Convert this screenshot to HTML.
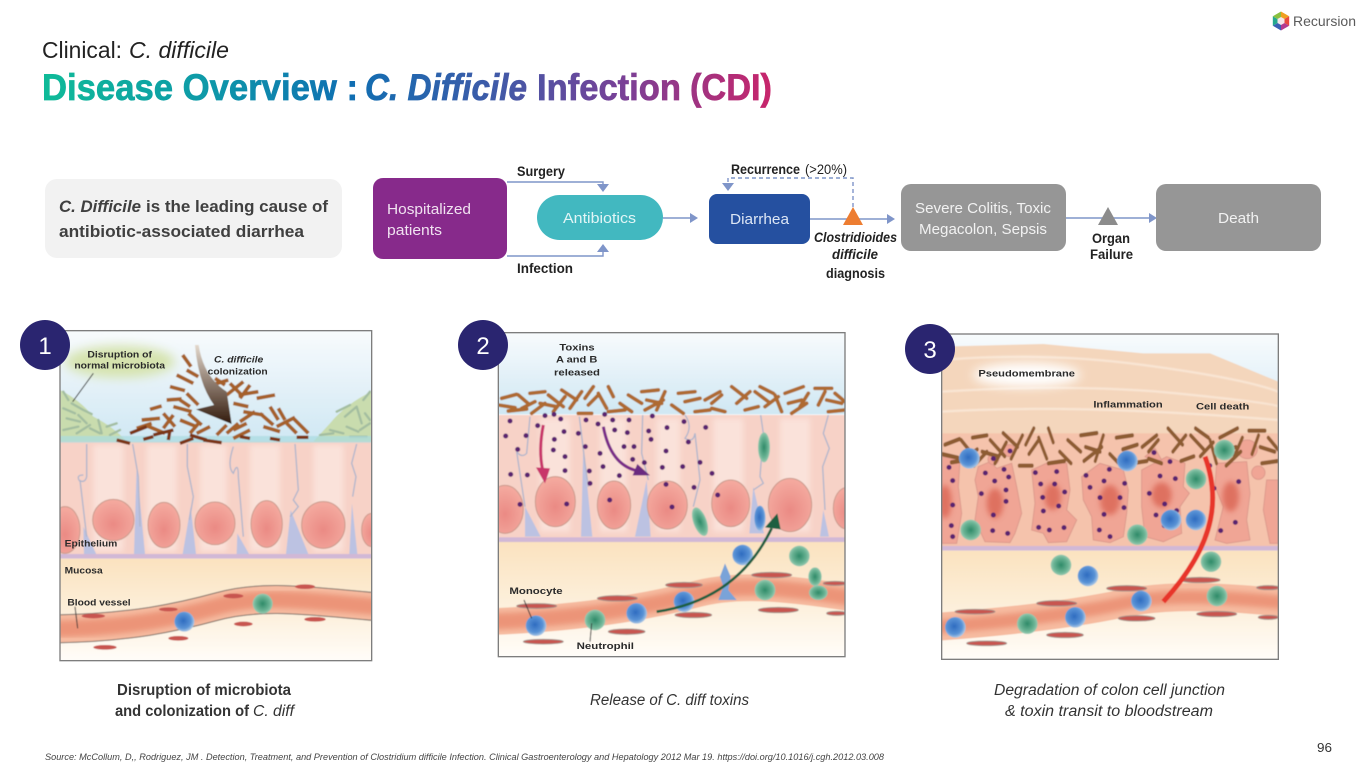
<!DOCTYPE html>
<html lang="en"><head><meta charset="utf-8"><title>Disease Overview: C. Difficile Infection</title>
<style>
html,body{margin:0;padding:0;background:#fff;width:1365px;height:768px;overflow:hidden}
svg{display:block}
text{font-family:"Liberation Sans",sans-serif}
.il{font-weight:bold;fill:#2b2b2b;font-size:27px}
</style></head><body>
<svg xmlns="http://www.w3.org/2000/svg" width="1365" height="768" viewBox="0 0 1365 768">
<defs>
<linearGradient id="tg" gradientUnits="userSpaceOnUse" x1="42" y1="0" x2="772" y2="0">
<stop offset="0" stop-color="#0fbb98"/><stop offset=".22" stop-color="#0e9aa8"/><stop offset=".42" stop-color="#0f6fb2"/><stop offset=".62" stop-color="#3f5aa8"/><stop offset=".8" stop-color="#7b4096"/><stop offset="1" stop-color="#c8256b"/>
</linearGradient>
<linearGradient id="sky" x1="0" y1="0" x2="0" y2="1"><stop offset="0" stop-color="#f8fbfd"/><stop offset="1" stop-color="#cfe7f3"/></linearGradient>
<linearGradient id="muc" x1="0" y1="0" x2="0" y2="1"><stop offset="0" stop-color="#fbe2bf"/><stop offset=".55" stop-color="#fdf0dc"/><stop offset="1" stop-color="#fffdf9"/></linearGradient>
<radialGradient id="nuc" cx=".5" cy=".6" r=".6"><stop offset="0" stop-color="#ea8a84"/><stop offset="1" stop-color="#f5aba0"/></radialGradient>
<radialGradient id="bc" cx=".45" cy=".45" r=".55"><stop offset="0" stop-color="#2f6cc0"/><stop offset=".7" stop-color="#5a93d6"/><stop offset="1" stop-color="#a9c6e4"/></radialGradient>
<radialGradient id="gc" cx=".5" cy=".5" r=".55"><stop offset="0" stop-color="#2f8a68"/><stop offset=".65" stop-color="#6cb495"/><stop offset="1" stop-color="#a8d2bc"/></radialGradient>
<linearGradient id="ar1" x1="0" y1="0" x2="0" y2="1"><stop offset="0" stop-color="#e3d8cc"/><stop offset="1" stop-color="#321a0c"/></linearGradient>
<filter id="b1" x="-5%" y="-5%" width="110%" height="110%"><feGaussianBlur stdDeviation="1.8"/></filter>
<filter id="b8" x="-30%" y="-30%" width="160%" height="160%"><feGaussianBlur stdDeviation="8"/></filter>
<filter id="b16" x="-40%" y="-60%" width="180%" height="220%"><feGaussianBlur stdDeviation="16"/></filter>
<clipPath id="c1"><rect x="90" y="32" width="935" height="990"/></clipPath>
<clipPath id="c2"><rect x="55" y="38" width="1040" height="972"/></clipPath>
<clipPath id="c3"><rect x="95" y="42" width="1010" height="976"/></clipPath>
<path id="band" fill="none" stroke-linecap="round" d="M0 60l50 8M10 40l45-12M30 78l55-6M60 30l30 26M70 70l40-20M95 25l45-5M100 85l40-30M125 55l50 10M150 30l45 35M165 80l35-45M190 15l45 30M215 70l35-50M240 85l40 0M260 40l25-35M270 60l30-30M300 25l25 45M330 80l50-5M345 35l-15-30M365 55l35 25M390 30l40 25M430 20l50-5M445 45l45 10M440 75l55-30M500 20l-25 55M520 60l35 25M540 25l50-5M560 50l45-10M590 80l45-5M620 45l45-25M640 70l40 10M670 30l-30 25M700 5l45 35M715 55l40-35M740 75l40-10M770 20l40 30M785 5l40 20M800 65l40-30M830 30l20 50M860 25l55-20M870 55l40-10M880 85l45-30M930 25l-25 40M950 10l50 0M960 60l20-40M985 45l45 10M990 80l50-5M1010 25l30 25"/>
</defs>

<!-- title -->
<text x="42" y="58" font-size="23" fill="#222" textLength="80" lengthAdjust="spacingAndGlyphs">Clinical:</text>
<text x="129" y="58" font-size="23" font-style="italic" fill="#222" textLength="100" lengthAdjust="spacingAndGlyphs">C. difficile</text>
<g font-size="37" font-weight="bold" fill="url(#tg)" stroke="url(#tg)" stroke-width=".7">
<text x="42" y="100" textLength="316" lengthAdjust="spacingAndGlyphs">Disease Overview :</text>
<text x="365" y="100" font-style="italic" textLength="162" lengthAdjust="spacingAndGlyphs">C. Difficile</text>
<text x="537" y="100" textLength="144" lengthAdjust="spacingAndGlyphs">Infection</text>
<text x="690" y="100" textLength="82" lengthAdjust="spacingAndGlyphs">(CDI)</text>
</g>

<!-- logo -->
<g transform="translate(1281 21)">
<path d="M0 0L0-9.5L8.2-4.7Z" fill="#f0a020"/><path d="M0 0L8.2-4.7V4.7Z" fill="#e8483f"/><path d="M0 0L8.2 4.7L0 9.5Z" fill="#b23a90"/><path d="M0 0L0 9.5L-8.2 4.7Z" fill="#3a5fb5"/><path d="M0 0L-8.2 4.7V-4.7Z" fill="#24a88f"/><path d="M0 0L-8.2-4.7L0-9.5Z" fill="#8ac040"/>
<path d="M0-4L3.5-2V2L0 4L-3.5 2V-2Z" fill="#f4e6ea"/>
</g>
<text x="1293" y="26" font-size="14" fill="#5a5a5a" textLength="63" lengthAdjust="spacingAndGlyphs">Recursion</text>

<!-- callout -->
<rect x="45" y="179" width="297" height="79" rx="12" fill="#f2f2f2"/>
<g font-size="17" font-weight="bold" fill="#404040">
<text x="59" y="212" font-style="italic" textLength="82" lengthAdjust="spacingAndGlyphs">C. Difficile</text>
<text x="146" y="212" textLength="182" lengthAdjust="spacingAndGlyphs">is the leading cause of</text>
<text x="59" y="237" textLength="245" lengthAdjust="spacingAndGlyphs">antibiotic-associated diarrhea</text>
</g>

<!-- flow connectors -->
<g fill="none" stroke="#7f95c9" stroke-width="1.4">
<path d="M507 182H603V186"/><path d="M507 256H603V250"/><path d="M663 218H690"/><path d="M810 219H888"/><path d="M1066 218H1150"/>
<path d="M853 207V178H728V184" stroke-dasharray="4 3"/>
</g>
<g fill="#7f95c9">
<path d="M597 184H609L603 192Z"/><path d="M597 252H609L603 244Z"/><path d="M690 213L698 218L690 223Z"/><path d="M887 214L895 219L887 224Z"/><path d="M1149 213L1157 218L1149 223Z"/><path d="M722 183H734L728 191Z"/>
</g>
<rect x="373" y="178" width="134" height="81" rx="10" fill="#872a8b"/>
<rect x="537" y="195" width="126" height="45" rx="22.5" fill="#42b8c0"/>
<rect x="709" y="194" width="101" height="50" rx="8" fill="#2550a0"/>
<rect x="901" y="184" width="165" height="67" rx="10" fill="#969696"/>
<rect x="1156" y="184" width="165" height="67" rx="10" fill="#969696"/>
<path d="M843 225L853 207L863 225Z" fill="#ed7d31"/>
<path d="M1098 225L1108 207L1118 225Z" fill="#8c8c8c"/>
<g font-size="15">
<text x="387" y="214" fill="#f0e2f0" textLength="84" lengthAdjust="spacingAndGlyphs">Hospitalized</text>
<text x="387" y="235" fill="#f0e2f0" textLength="55" lengthAdjust="spacingAndGlyphs">patients</text>
<text x="563" y="223" fill="#e2f5f6" textLength="73" lengthAdjust="spacingAndGlyphs">Antibiotics</text>
<text x="730" y="224" fill="#dce6f5" textLength="59" lengthAdjust="spacingAndGlyphs">Diarrhea</text>
<text x="915" y="213" fill="#f2f2f2" textLength="136" lengthAdjust="spacingAndGlyphs">Severe Colitis, Toxic</text>
<text x="919" y="234" fill="#f2f2f2" textLength="128" lengthAdjust="spacingAndGlyphs">Megacolon, Sepsis</text>
<text x="1218" y="223" fill="#f2f2f2" textLength="41" lengthAdjust="spacingAndGlyphs">Death</text>
</g>
<g font-size="13.5" font-weight="bold" fill="#222">
<text x="517" y="176" textLength="48" lengthAdjust="spacingAndGlyphs">Surgery</text>
<text x="517" y="273" textLength="56" lengthAdjust="spacingAndGlyphs">Infection</text>
<text x="731" y="174" textLength="69" lengthAdjust="spacingAndGlyphs">Recurrence</text>
<text x="805" y="174" font-weight="normal" textLength="42" lengthAdjust="spacingAndGlyphs">(&gt;20%)</text>
<text x="814" y="242" font-style="italic" textLength="83" lengthAdjust="spacingAndGlyphs">Clostridioides</text>
<text x="832" y="259" font-style="italic" textLength="46" lengthAdjust="spacingAndGlyphs">difficile</text>
<text x="826" y="278" textLength="59" lengthAdjust="spacingAndGlyphs">diagnosis</text>
<text x="1092" y="243" textLength="38" lengthAdjust="spacingAndGlyphs">Organ</text>
<text x="1090" y="259" textLength="43" lengthAdjust="spacingAndGlyphs">Failure</text>
</g>

<!-- PANEL 1 -->
<g transform="translate(30 320) scale(.33333)">
<g clip-path="url(#c1)"><g filter="url(#b1)">
<rect x="90" y="32" width="935" height="990" fill="#fff"/>
<rect x="90" y="32" width="935" height="335" fill="url(#sky)"/>
<ellipse cx="270" cy="125" rx="165" ry="48" fill="#d6e3ae" filter="url(#b16)"/>
<path d="M90 210Q150 240 190 290Q250 320 290 365H90Z" fill="#c9dcae"/>
<path d="M1025 215Q950 250 900 310L850 365H1025Z" fill="#c9dcae"/>
<path fill="none" stroke="#a3bda0" stroke-width="7" stroke-linecap="round" d="M100 215l15 25M125 250l35 20M100 265l35 15M110 295l40 10M145 285l25 25M160 270l25 12M100 330l45-10M140 340l40-25M180 325l30 15M205 300l10 40M230 320l30-10M240 345l30-15M920 275l40-20M945 290l35-30M980 260l15 50M1000 240l20-25M900 330l40 10M950 320l35 15M990 330l30-20M960 350l50 0M870 345l40-5M1005 280l15 20"/>
<path d="M128 245L190 160" stroke="#333" stroke-width="3" fill="none"/>
<rect x="90" y="365" width="935" height="345" fill="#f7d2c7"/>
<g fill="#fae2da" filter="url(#b8)"><rect x="190" y="375" width="90" height="320"/><rect x="350" y="375" width="90" height="320"/><rect x="510" y="375" width="80" height="320"/><rect x="660" y="375" width="90" height="320"/><rect x="850" y="375" width="90" height="320"/></g>
<path d="M90 348H1025V368H90Z" fill="#a9dbe0" opacity=".7"/>
<g fill="#bcc2e2"><path d="M160 620L200 705H162Z"/><path d="M320 440L345 702H312Z"/><path d="M482 560L498 702H458Z"/><path d="M622 640L657 702H620Z"/><path d="M782 570L835 702H768Z"/><path d="M966 550L982 702H958Z"/></g>
<g fill="none" stroke="#b0b6cc" stroke-width="4"><path d="M170 372V470Q165 490 148 482Q138 465 160 465M150 480L170 650"/><path d="M308 372L325 470L330 620"/><path d="M472 372V440L490 530L478 600"/><path d="M610 380Q590 440 610 460Q625 420 625 470L640 650"/><path d="M795 372L805 510L790 540L805 560L780 590"/><path d="M980 372L965 430L978 470L968 530"/></g>
<g fill="url(#nuc)" stroke="#cb9a8c" stroke-width="3"><ellipse cx="105" cy="630" rx="45" ry="70"/><ellipse cx="250" cy="600" rx="62" ry="62"/><ellipse cx="402" cy="615" rx="48" ry="68"/><ellipse cx="555" cy="610" rx="60" ry="64"/><ellipse cx="710" cy="612" rx="47" ry="70"/><ellipse cx="880" cy="615" rx="65" ry="70"/><ellipse cx="1025" cy="630" rx="30" ry="50"/></g>
<rect x="90" y="702" width="935" height="14" fill="#d1b8d6"/>
<rect x="90" y="716" width="935" height="306" fill="url(#muc)"/>
<path d="M60 927C300 925 450 890 560 860C700 820 850 845 1060 862" fill="none" stroke="#f6bba0" stroke-width="84"/>
<path d="M60 927C300 925 450 890 560 860C700 820 850 845 1060 862" fill="none" stroke="#ec9478" stroke-width="50" filter="url(#b8)"/>
<g fill="none" stroke="#7d6f68" stroke-width="3"><path transform="translate(0 -42)" d="M60 927C300 925 450 890 560 860C700 820 850 845 1060 862"/><path transform="translate(0 42)" d="M60 927C300 925 450 890 560 860C700 820 850 845 1060 862"/></g>
<g fill="#c85450"><ellipse cx="190" cy="888" rx="35" ry="7"/><ellipse cx="415" cy="868" rx="28" ry="6"/><ellipse cx="610" cy="828" rx="30" ry="7"/><ellipse cx="825" cy="800" rx="30" ry="7"/><ellipse cx="225" cy="982" rx="35" ry="7"/><ellipse cx="445" cy="955" rx="30" ry="7"/><ellipse cx="640" cy="912" rx="28" ry="7"/><ellipse cx="855" cy="898" rx="32" ry="7"/></g>
<circle cx="463" cy="905" r="30" fill="url(#bc)"/><circle cx="698" cy="851" r="30" fill="url(#gc)"/>
<path d="M135 860L143 925" stroke="#333" stroke-width="3"/>
<path fill="none" stroke="#a5602c" stroke-width="11" d="M458 105l25 35M440 165l50 25M470 150l35 20M420 200l45 12M410 240l45-3M395 258l-35 10M470 220l35 35M480 260l-30-20M430 260l55 15M335 300l55-5M320 325l45-15M345 315l60 25M400 280l35 40M430 285l-30 40M450 300l50 20M475 280l40 35M510 305l-30 35M540 320l-40 20M555 175l30 20M545 195l50-15M600 190l35 35M640 185l-50 40M625 225l60-10M660 195l-30 40M680 235l55-10M610 250l45 10M640 275l60 10M630 305l45-30M690 280l40 35M720 260l25 40M745 265l20 35M740 320l55-28M790 295l45 45M770 310l30 30M700 320l50 15M660 330l-50 25M610 330l40-20M590 340l35-30M560 345l30-30"/>
<path fill="none" stroke="#7a3517" stroke-width="10" d="M480 345l50 15M420 330l-5 30M370 345l60-15M300 340l50-20M260 360l40 10M340 358l30-8M450 370l40-15M520 360l55 8M630 350l30 5M720 355l30 5M800 352l35 0"/>
<path d="M495 75H506Q520 170 590 215L605 312L498 268L552 255Q505 190 495 75Z" fill="url(#ar1)"/>
</g>
<g>
<text class="il" x="172" y="113" textLength="194" lengthAdjust="spacingAndGlyphs">Disruption of</text>
<text class="il" x="133" y="146" textLength="272" lengthAdjust="spacingAndGlyphs">normal microbiota</text>
<text class="il" x="552" y="128" font-style="italic" textLength="148" lengthAdjust="spacingAndGlyphs">C. difficile</text>
<text class="il" x="533" y="163" textLength="180" lengthAdjust="spacingAndGlyphs">colonization</text>
<text class="il" x="104" y="680" textLength="158" lengthAdjust="spacingAndGlyphs">Epithelium</text>
<text class="il" x="104" y="760" textLength="114" lengthAdjust="spacingAndGlyphs">Mucosa</text>
<text class="il" x="112" y="856" textLength="190" lengthAdjust="spacingAndGlyphs">Blood vessel</text>
</g></g>
<rect x="90" y="32" width="935" height="990" fill="none" stroke="#7d7d7d" stroke-width="4"/>
</g>

<!-- PANEL 2 -->
<g transform="translate(480 320) scale(.33333)">
<g clip-path="url(#c2)"><g filter="url(#b1)">
<rect x="55" y="38" width="1040" height="972" fill="#fff"/>
<rect x="55" y="38" width="1040" height="245" fill="url(#sky)"/>
<rect x="55" y="285" width="1040" height="370" fill="#f7d2c7"/>
<g fill="#fae2da" filter="url(#b8)"><rect x="180" y="295" width="90" height="340"/><rect x="360" y="295" width="80" height="340"/><rect x="530" y="295" width="70" height="340"/><rect x="700" y="295" width="90" height="340"/><rect x="900" y="295" width="90" height="340"/></g>
<g fill="#bcc2e2"><path d="M135 560L182 650H135Z"/><path d="M310 380L337 650H303Z"/><path d="M500 480L512 650H465Z"/><path d="M820 500L852 640H808Z"/><path d="M1030 570L1047 650H1020Z"/></g>
<g fill="none" stroke="#b0b6cc" stroke-width="4"><path d="M150 290L140 400Q125 415 110 395L135 560"/><path d="M298 290L315 430L325 500"/><path d="M488 285L485 400L505 480"/><path d="M615 285Q640 320 615 355Q640 370 645 340L660 480L640 560"/><path d="M842 285L850 340L840 470L850 490L820 510"/><path d="M1045 285L1030 340L1048 385L1028 440L1035 570"/></g>
<g fill="url(#nuc)" stroke="#cb9a8c" stroke-width="3"><ellipse cx="75" cy="568" rx="55" ry="72"/><ellipse cx="226" cy="545" rx="60" ry="75"/><ellipse cx="402" cy="555" rx="50" ry="72"/><ellipse cx="562" cy="555" rx="60" ry="72"/><ellipse cx="752" cy="550" rx="57" ry="70"/><ellipse cx="930" cy="555" rx="65" ry="80"/><ellipse cx="1100" cy="565" rx="40" ry="62"/></g>
<rect x="55" y="652" width="1040" height="14" fill="#d1b8d6"/>
<rect x="55" y="666" width="1040" height="344" fill="url(#muc)"/>
<path d="M30 905C300 895 500 860 640 825C760 790 900 800 1120 835" fill="none" stroke="#f6bba0" stroke-width="80"/>
<path d="M30 905C300 895 500 860 640 825C760 790 900 800 1120 835" fill="none" stroke="#ec9478" stroke-width="48" filter="url(#b8)"/>
<g fill="#c85450" stroke="#a39088" stroke-width="3"><ellipse cx="170" cy="858" rx="60" ry="7"/><ellipse cx="412" cy="835" rx="60" ry="8"/><ellipse cx="612" cy="795" rx="55" ry="8"/><ellipse cx="875" cy="765" rx="60" ry="8"/><ellipse cx="1065" cy="790" rx="35" ry="6"/><ellipse cx="190" cy="965" rx="60" ry="7"/><ellipse cx="440" cy="935" rx="55" ry="8"/><ellipse cx="640" cy="885" rx="55" ry="8"/><ellipse cx="895" cy="870" rx="60" ry="8"/><ellipse cx="1070" cy="880" rx="30" ry="6"/></g>
<use href="#band" transform="translate(55 195)" stroke="#ae6a32" stroke-width="11"/>
<path fill="none" stroke="#5a2470" stroke-width="15" stroke-linecap="round" d="M90 303h.1M77 348h.1M138 347h.1M113 388h.1M92 463h.1M142 465h.1M173 317h.1M195 287h.1M222 283h.1M242 297h.1M252 335h.1M223 358h.1M220 390h.1M255 410h.1M255 452h.1M295 340h.1M316 380h.1M318 300h.1M354 312h.1M374 283h.1M398 300h.1M447 300h.1M404 330h.1M442 338h.1M360 400h.1M432 380h.1M462 380h.1M369 440h.1M328 453h.1M330 490h.1M418 467h.1M458 418h.1M493 428h.1M506 333h.1M513 358h.1M517 288h.1M561 323h.1M612 305h.1M677 322h.1M625 366h.1M558 393h.1M547 442h.1M608 440h.1M660 427h.1M696 460h.1M642 502h.1M558 493h.1M713 525h.1M120 553h.1M260 552h.1M389 540h.1M576 561h.1"/>
<path d="M190 315Q175 390 188 450" fill="none" stroke="#c8356b" stroke-width="9"/><path d="M168 442L210 445L195 490Z" fill="#c8356b"/>
<path d="M370 320C385 400 420 440 470 452" fill="none" stroke="#7a2a88" stroke-width="9"/><path d="M472 432L510 466L458 466Z" fill="#6a2a80"/>
<ellipse cx="852" cy="382" rx="18" ry="45" fill="url(#gc)"/><ellipse cx="660" cy="605" rx="20" ry="45" transform="rotate(-20 660 605)" fill="url(#gc)"/>
<ellipse cx="840" cy="595" rx="17" ry="38" fill="url(#bc)"/>
<path d="M735 730L752 770L745 810L770 840H715L730 800L720 770Z" fill="#7aa3d8"/>
<g fill="url(#bc)"><circle cx="168" cy="917" r="31"/><circle cx="470" cy="880" r="31"/><circle cx="612" cy="845" r="31"/><circle cx="788" cy="705" r="31"/></g>
<g fill="url(#gc)"><circle cx="345" cy="900" r="31"/><circle cx="855" cy="810" r="31"/><circle cx="958" cy="708" r="31"/><ellipse cx="1005" cy="770" rx="20" ry="28"/><ellipse cx="1015" cy="818" rx="28" ry="22"/></g>
<path d="M530 875C700 850 810 760 875 625" fill="none" stroke="#1c5f40" stroke-width="8"/><path d="M855 622L892 580L902 628Z" fill="#1c5f40"/>
<path d="M132 840L155 895M335 910L330 965" stroke="#333" stroke-width="3" fill="none"/>
</g>
<g>
<text class="il" x="238" y="92" textLength="106" lengthAdjust="spacingAndGlyphs">Toxins</text>
<text class="il" x="228" y="128" textLength="124" lengthAdjust="spacingAndGlyphs">A and B</text>
<text class="il" x="222" y="166" textLength="138" lengthAdjust="spacingAndGlyphs">released</text>
<text class="il" x="88" y="822" textLength="160" lengthAdjust="spacingAndGlyphs">Monocyte</text>
<text class="il" x="290" y="987" textLength="172" lengthAdjust="spacingAndGlyphs">Neutrophil</text>
</g></g>
<rect x="55" y="38" width="1040" height="972" fill="none" stroke="#7d7d7d" stroke-width="4"/>
</g>

<!-- PANEL 3 -->
<g transform="translate(910 320) scale(.33333)">
<g clip-path="url(#c3)"><g filter="url(#b1)">
<rect x="95" y="42" width="1010" height="976" fill="#fff"/>
<rect x="95" y="42" width="1010" height="300" fill="url(#sky)"/>
<path d="M95 80L400 72L700 100L900 100L1105 185V345H95Z" fill="#f4d6bc"/>
<g fill="none" stroke="#fae8d8" stroke-width="6" filter="url(#b1)"><path d="M95 120Q400 95 700 135T1105 215"/><path d="M95 215Q500 190 800 220T1105 260"/><path d="M95 275Q500 250 1105 300"/></g>
<ellipse cx="350" cy="165" rx="160" ry="36" fill="#fff" filter="url(#b16)"/>
<rect x="95" y="340" width="1010" height="345" fill="#f5c3ac"/>
<g fill="#f0a595" stroke="#dd9a8c" stroke-width="3">
<path d="M95 410L150 420L145 500L155 580L140 670H95Z"/>
<path d="M205 440L240 425L260 445L305 430L320 500L335 580L315 640L300 668L225 665L195 600L205 530L195 480Z"/>
<path d="M365 450L420 425L470 430L480 510L470 570L500 600L470 665L415 668L400 640L365 630L375 550Z"/>
<path d="M515 470L570 430L640 450L655 510L650 580L640 650L600 668L550 660L545 590L520 540Z"/>
<path d="M695 450L770 410L825 430L820 500L838 520L810 560L815 640L760 665L705 650L695 560Z"/>
<path d="M920 430L1010 425L1020 520L1010 600L1020 660L950 670L915 660L940 560L915 500Z"/>
<path d="M1070 480H1105V670H1080L1060 570Z"/>
<circle cx="298" cy="392" r="18"/><circle cx="250" cy="418" r="16"/><path d="M705 410L735 385L755 420L730 425Z"/><ellipse cx="1012" cy="388" rx="30" ry="28"/><ellipse cx="1045" cy="458" rx="20" ry="20"/>
</g>
<g fill="#d9604f" opacity=".75" filter="url(#b8)"><ellipse cx="255" cy="550" rx="25" ry="45"/><ellipse cx="428" cy="530" rx="25" ry="40"/><ellipse cx="600" cy="540" rx="30" ry="45"/><ellipse cx="755" cy="525" rx="30" ry="38"/><ellipse cx="962" cy="530" rx="25" ry="45"/><ellipse cx="105" cy="545" rx="20" ry="50"/></g>
<use href="#band" transform="translate(95 318) scale(.97 1.4)" stroke="#8d5b33" stroke-width="9"/>
<path fill="none" stroke="#5a2470" stroke-width="15" stroke-linecap="round" d="M117 442h.1M128 482h.1M128 555h.1M124 617h.1M128 650h.1M226 459h.1M282 448h.1M254 483h.1M296 471h.1M288 510h.1M214 521h.1M288 544h.1M250 585h.1M248 632h.1M293 640h.1M300 393h.1M250 416h.1M376 458h.1M440 455h.1M392 492h.1M434 492h.1M398 532h.1M464 516h.1M446 558h.1M400 573h.1M386 622h.1M418 630h.1M462 623h.1M528 466h.1M598 448h.1M582 483h.1M540 502h.1M644 490h.1M570 533h.1M630 533h.1M642 563h.1M582 583h.1M568 630h.1M600 650h.1M732 398h.1M780 425h.1M750 468h.1M796 476h.1M718 520h.1M764 552h.1M738 585h.1M800 572h.1M763 617h.1M899 437h.1M912 505h.1M986 485h.1M976 607h.1M932 632h.1"/>
<rect x="95" y="678" width="1010" height="14" fill="#d1b8d6"/>
<rect x="95" y="692" width="1010" height="326" fill="url(#muc)"/>
<path d="M60 922C300 905 500 880 640 850C760 825 900 825 1140 850" fill="none" stroke="#f6bba0" stroke-width="84"/>
<path d="M60 922C300 905 500 880 640 850C760 825 900 825 1140 850" fill="none" stroke="#ec9478" stroke-width="40" filter="url(#b8)"/>
<g fill="#c85450" stroke="#a39088" stroke-width="3"><ellipse cx="195" cy="875" rx="60" ry="7"/><ellipse cx="440" cy="850" rx="60" ry="8"/><ellipse cx="650" cy="805" rx="60" ry="8"/><ellipse cx="870" cy="780" rx="60" ry="8"/><ellipse cx="1075" cy="803" rx="35" ry="6"/><ellipse cx="230" cy="970" rx="60" ry="7"/><ellipse cx="465" cy="945" rx="55" ry="8"/><ellipse cx="680" cy="895" rx="55" ry="8"/><ellipse cx="920" cy="882" rx="60" ry="8"/><ellipse cx="1075" cy="892" rx="30" ry="6"/></g>
<g fill="url(#bc)"><circle cx="178" cy="415" r="31"/><circle cx="652" cy="423" r="31"/><circle cx="783" cy="600" r="31"/><circle cx="858" cy="600" r="31"/><circle cx="534" cy="768" r="31"/><circle cx="694" cy="843" r="31"/><circle cx="496" cy="892" r="31"/><circle cx="136" cy="922" r="31"/></g>
<g fill="url(#gc)"><circle cx="943" cy="390" r="31"/><circle cx="858" cy="477" r="31"/><circle cx="182" cy="630" r="31"/><circle cx="682" cy="644" r="31"/><circle cx="903" cy="725" r="31"/><circle cx="453" cy="735" r="31"/><circle cx="921" cy="828" r="31"/><circle cx="352" cy="911" r="31"/></g>
<path d="M885 410C925 520 930 660 760 845" fill="none" stroke="#e8342a" stroke-width="15"/>
</g>
<g>
<text class="il" x="205" y="170" textLength="290" lengthAdjust="spacingAndGlyphs">Pseudomembrane</text>
<text class="il" x="550" y="263" textLength="208" lengthAdjust="spacingAndGlyphs">Inflammation</text>
<text class="il" x="858" y="268" textLength="160" lengthAdjust="spacingAndGlyphs">Cell death</text>
</g></g>
<rect x="95" y="42" width="1010" height="976" fill="none" stroke="#7d7d7d" stroke-width="4"/>
</g>

<!-- number badges -->
<circle cx="45" cy="345" r="25" fill="#2a2570"/><circle cx="483" cy="345" r="25" fill="#2a2570"/><circle cx="930" cy="349" r="25" fill="#2a2570"/>
<g font-size="24" fill="#fff" text-anchor="middle"><text x="45" y="354">1</text><text x="483" y="354">2</text><text x="930" y="358">3</text></g>

<!-- captions -->
<g font-size="15.5" fill="#333">
<text x="117" y="695" font-weight="bold" textLength="174" lengthAdjust="spacingAndGlyphs">Disruption of microbiota</text>
<text x="115" y="716" font-weight="bold" textLength="134" lengthAdjust="spacingAndGlyphs">and colonization of</text>
<text x="253" y="716" font-style="italic" textLength="41" lengthAdjust="spacingAndGlyphs">C. diff</text>
<text x="590" y="705" font-style="italic" textLength="159" lengthAdjust="spacingAndGlyphs">Release of C. diff toxins</text>
<text x="994" y="695" font-style="italic" textLength="231" lengthAdjust="spacingAndGlyphs">Degradation of colon cell junction</text>
<text x="1005" y="716" font-style="italic" textLength="208" lengthAdjust="spacingAndGlyphs">&amp; toxin transit to bloodstream</text>
</g>
<text x="45" y="760" font-size="9" font-style="italic" fill="#444" textLength="839" lengthAdjust="spacingAndGlyphs">Source: McCollum, D,, Rodriguez, JM . Detection, Treatment, and Prevention of Clostridium difficile Infection. Clinical Gastroenterology and Hepatology 2012 Mar 19. https://doi.org/10.1016/j.cgh.2012.03.008</text>
<text x="1317" y="752" font-size="13" fill="#333" textLength="15" lengthAdjust="spacingAndGlyphs">96</text>
</svg>
</body></html>
